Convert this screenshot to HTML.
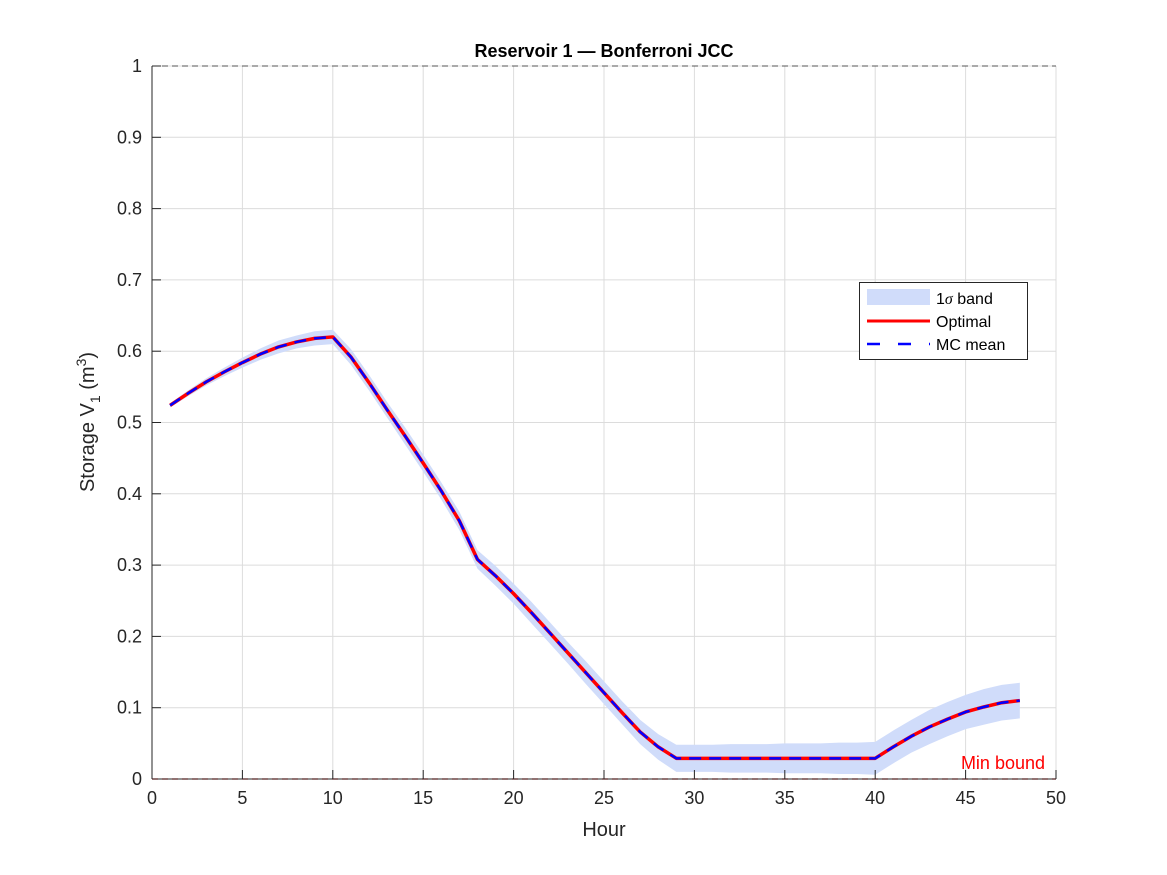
<!DOCTYPE html>
<html><head><meta charset="utf-8"><style>
body{margin:0;background:#fff}
svg{display:block;font-family:"Liberation Sans",Arial,sans-serif}
</style></head><body>
<svg id="chart" width="1167" height="875" viewBox="0 0 1167 875">
<rect width="1167" height="875" fill="#fff"/>
<g id="grid"></g>
<g id="marks"></g>
<g id="axes"></g>
<text x="604" y="57" text-anchor="middle" font-size="18" font-weight="bold" fill="#000">Reservoir 1 — Bonferroni JCC</text>
<text x="604" y="836" text-anchor="middle" font-size="20" fill="#262626">Hour</text>
<text transform="translate(94,422) rotate(-90)" text-anchor="middle" font-size="20" fill="#262626">Storage V<tspan font-size="14" dy="6">1</tspan><tspan dy="-6"> (m</tspan><tspan font-size="14" dy="-8">3</tspan><tspan dy="8">)</tspan></text>
<text x="1045" y="769" text-anchor="end" font-size="18" fill="#ff0000">Min bound</text>
<g>
<rect x="859.5" y="282.5" width="168" height="77" fill="#fff" stroke="#262626" stroke-width="1"/>
<rect x="867" y="289" width="63" height="16" fill="#d0dcfa"/>
<text x="936" y="304" font-size="16" fill="#000">1<tspan font-family="Liberation Serif" font-style="italic">σ</tspan> band</text>
<line x1="867" y1="321" x2="930" y2="321" stroke="#ff0000" stroke-width="3"/>
<text x="936" y="327" font-size="16" fill="#000">Optimal</text>
<line x1="867" y1="344" x2="930" y2="344" stroke="#0000ff" stroke-width="2.5" stroke-dasharray="13,18"/>
<text x="936" y="350" font-size="16" fill="#000">MC mean</text>
</g>
</svg>
<script>
const hours=[1,2,3,4,5,6,7,8,9,10,11,12,13,14,15,16,17,18,19,20,21,22,23,24,25,26,27,28,29,30,31,32,33,34,35,36,37,38,39,40,41,42,43,44,45,46,47,48];
const optimal=[0.524,0.541,0.557,0.571,0.584,0.596,0.606,0.613,0.618,0.620,0.592,0.556,0.518,0.481,0.443,0.404,0.362,0.308,0.285,0.260,0.233,0.205,0.177,0.149,0.121,0.093,0.066,0.045,0.029,0.029,0.029,0.029,0.029,0.029,0.029,0.029,0.029,0.029,0.029,0.029,0.045,0.060,0.073,0.084,0.094,0.101,0.107,0.110];
const mcMean=[0.524,0.541,0.557,0.571,0.584,0.596,0.606,0.613,0.618,0.620,0.592,0.556,0.518,0.481,0.443,0.404,0.362,0.308,0.285,0.260,0.233,0.205,0.177,0.149,0.121,0.093,0.066,0.045,0.029,0.029,0.029,0.029,0.029,0.029,0.029,0.029,0.029,0.029,0.029,0.029,0.045,0.060,0.073,0.084,0.094,0.101,0.107,0.110];
const sigma=[0.003,0.004,0.005,0.006,0.007,0.008,0.009,0.009,0.010,0.010,0.011,0.011,0.011,0.012,0.012,0.012,0.013,0.013,0.014,0.014,0.015,0.015,0.015,0.016,0.016,0.016,0.017,0.018,0.019,0.019,0.019,0.020,0.020,0.020,0.021,0.021,0.021,0.022,0.022,0.023,0.023,0.023,0.024,0.024,0.024,0.025,0.025,0.025];
const xTicks=[0,5,10,15,20,25,30,35,40,45,50];
const yTicks=[0,0.1,0.2,0.3,0.4,0.5,0.6,0.7,0.8,0.9,1];
const yTickLabels=["0","0.1","0.2","0.3","0.4","0.5","0.6","0.7","0.8","0.9","1"];
const minBound=0, maxBound=1;

const L=152,R=1056,T=66,B=779;
const xs=v=>L+(v-0)/(50-0)*(R-L);
const ys=v=>B-(v-0)/(1-0)*(B-T);
const NS="http://www.w3.org/2000/svg";
function mk(tag,parent,attrs){const e=document.createElementNS(NS,tag);for(const k in attrs)e.setAttribute(k,attrs[k]);parent.appendChild(e);return e;}
const grid=document.getElementById('grid'),marks=document.getElementById('marks'),axes=document.getElementById('axes');

xTicks.forEach(t=>{const g=mk('line',grid,{x1:xs(t),x2:xs(t),y1:T,y2:B,stroke:'#dcdcdc','stroke-width':1});

});
yTicks.forEach(t=>{const g=mk('line',grid,{x1:L,x2:R,y1:ys(t),y2:ys(t),stroke:'#dcdcdc','stroke-width':1});

});

let up=hours.map((h,i)=>xs(h)+','+ys(mcMean[i]+sigma[i]));
let dn=hours.map((h,i)=>xs(h)+','+ys(mcMean[i]-sigma[i])).reverse();
const band=mk('polygon',marks,{points:up.concat(dn).join(' '),fill:'#d0dcfa'});



const bl=mk('line',marks,{x1:L,x2:R,y1:ys(maxBound),y2:ys(maxBound),stroke:'#555','stroke-width':1,'stroke-dasharray':'6,4'});


const mb=mk('line',marks,{x1:L,x2:R,y1:ys(minBound),y2:ys(minBound),stroke:'#ff0000','stroke-width':1.2,'stroke-dasharray':'6,4'});



const op=mk('polyline',marks,{points:hours.map((h,i)=>xs(h)+','+ys(optimal[i])).join(' '),fill:'none',stroke:'#ff0000','stroke-width':3.5,'stroke-linejoin':'round'});


const mc=mk('polyline',marks,{points:hours.map((h,i)=>xs(h)+','+ys(mcMean[i])).join(' '),fill:'none',stroke:'#0000ff','stroke-width':2.5,'stroke-dasharray':'12,8'});



const ax=mk('line',axes,{x1:L,x2:L,y1:T,y2:B,stroke:'#262626','stroke-width':1});


const bx=mk('line',axes,{x1:L,x2:R,y1:B,y2:B,stroke:'#262626','stroke-width':1});


xTicks.forEach(t=>{const k=mk('line',axes,{x1:xs(t),x2:xs(t),y1:B,y2:B-9,stroke:'#262626'});


const tx=mk('text',axes,{x:xs(t),y:B+25,'text-anchor':'middle','font-size':18,fill:'#262626'});tx.textContent=t;

});
yTicks.forEach((t,i)=>{const k=mk('line',axes,{x1:L,x2:L+9,y1:ys(t),y2:ys(t),stroke:'#262626'});


const tx=mk('text',axes,{x:L-10,y:ys(t)+6,'text-anchor':'end','font-size':18,fill:'#262626'});tx.textContent=yTickLabels[i];

});
</script>
</body></html>
